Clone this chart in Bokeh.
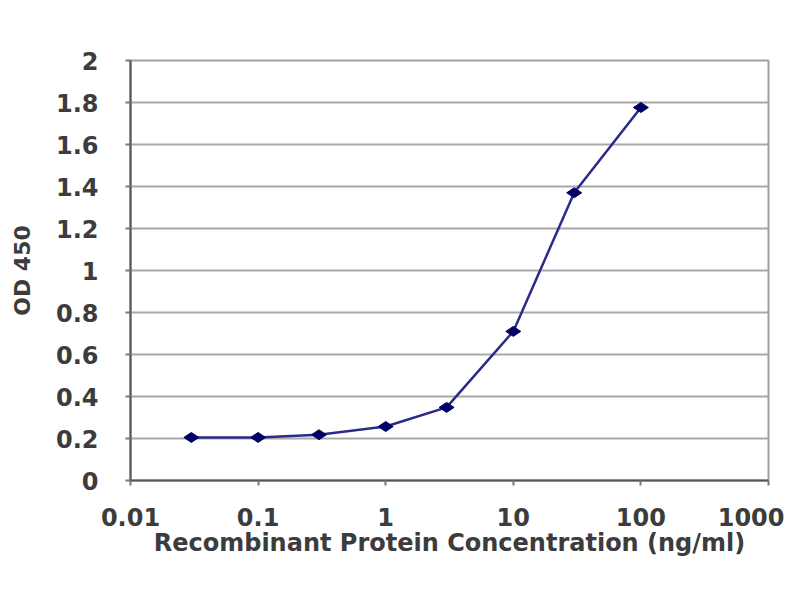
import math
from bokeh.plotting import figure
from bokeh.models import Range1d, FixedTicker
from bokeh.embed import file_html
from bokeh.resources import INLINE

# Data
concentration = [0.03, 0.1, 0.3, 1, 3, 10, 30, 100]
od450 = [0.205, 0.205, 0.218, 0.257, 0.348, 0.71, 1.37, 1.776]

x_ticks = [0.01, 0.1, 1, 10, 100, 1000]
x_tick_labels = ["0.01", "0.1", "1", "10", "100", "1000"]
y_ticks = [0, 0.2, 0.4, 0.6, 0.8, 1.0, 1.2, 1.4, 1.6, 1.8, 2.0]
y_tick_labels = ["0", "0.2", "0.4", "0.6", "0.8", "1", "1.2", "1.4", "1.6", "1.8", "2"]

x_title = "Recombinant Protein Concentration (ng/ml)"
y_title = "OD 450"

FONT = "DejaVu Sans"
TXT = "#3c3c3c"

p = figure(width=784, height=584, x_axis_type="log",
           x_range=Range1d(0.01, 1000), y_range=Range1d(0, 2),
           output_backend="svg", toolbar_location=None,
           min_border_left=130, min_border_right=16,
           min_border_top=60, min_border_bottom=104)

p.background_fill_color = "white"
p.border_fill_color = "white"
p.outline_line_color = "#a0a0a0"
p.outline_line_width = 2

p.xgrid.visible = False
p.ygrid.ticker = FixedTicker(ticks=y_ticks)
p.ygrid.grid_line_color = "#a8a8a8"
p.ygrid.grid_line_width = 2

p.xaxis.ticker = FixedTicker(ticks=x_ticks, minor_ticks=[])
p.xaxis.major_label_overrides = {t: l for t, l in zip(x_ticks, x_tick_labels)}
p.yaxis.ticker = FixedTicker(ticks=y_ticks, minor_ticks=[])
p.yaxis.major_label_overrides = {t: l for t, l in zip(y_ticks, y_tick_labels)}

for ax in (p.xaxis[0], p.yaxis[0]):
    ax.axis_line_color = "#555555"
    ax.axis_line_width = 2
    ax.major_tick_line_color = "#777777"
    ax.major_tick_line_width = 2
    ax.major_tick_in = 0
    ax.major_tick_out = 5
    ax.minor_tick_line_color = None
    ax.major_label_text_font = FONT
    ax.major_label_text_font_size = "24px"
    ax.major_label_text_font_style = "bold"
    ax.major_label_text_color = TXT
    ax.axis_label_text_font = FONT
    ax.axis_label_text_font_size = "24px"
    ax.axis_label_text_font_style = "bold"
    ax.axis_label_text_color = TXT

p.yaxis.axis_label_text_font_size = "22px"
p.xaxis.axis_label = x_title
p.yaxis.axis_label = y_title
p.xaxis.major_label_standoff = 22
p.xaxis.axis_label_standoff = 0
p.yaxis.major_label_standoff = 27
p.yaxis.axis_label_standoff = 18

p.line(concentration, od450, line_color="#2a2a88", line_width=2.5)
p.scatter(concentration, od450, marker="diamond", size=15, angle=math.pi / 2,
          fill_color="#000066", line_color="#000066")

open("out.html", "w").write(file_html(p, INLINE))
